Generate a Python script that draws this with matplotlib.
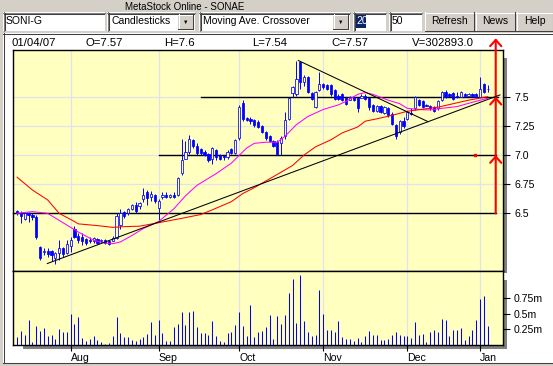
import matplotlib
matplotlib.use('Agg')
import matplotlib.pyplot as plt
from matplotlib.patches import Rectangle
from matplotlib.lines import Line2D

W, H = 553, 366

# ── Daily bars, SONI-G, 12 Jul 2006 .. 4 Jan 2007 ──
opens = [6.52, 6.50, 6.45, 6.50, 6.49, 6.47, 6.21, 6.17, 6.18, 6.18,
         6.12, 6.16, 6.20, 6.16, 6.22, 6.37, 6.31, 6.30, 6.28, 6.27,
         6.26, 6.28, 6.26, 6.27, 6.26, 6.26, 6.29, 6.40, 6.51, 6.50,
         6.54, 6.57, 6.56, 6.62, 6.68, 6.64, 6.66, 6.55, 6.64, 6.66,
         6.64, 6.66, 6.66, 6.85, 6.97, 7.03, 7.13, 7.08, 7.05, 7.03,
         7.01, 6.97, 7.04, 7.00, 6.99, 6.98, 7.05, 7.02, 7.15, 7.45,
         7.32, 7.31, 7.30, 7.28, 7.25, 7.20, 7.16, 7.12, 7.11, 7.10,
         7.16, 7.31, 7.53, 7.52, 7.80, 7.63, 7.67, 7.53, 7.41, 7.56,
         7.61, 7.60, 7.60, 7.56, 7.51, 7.52, 7.49, 7.47, 7.50, 7.49,
         7.49, 7.51, 7.49, 7.43, 7.38, 7.42, 7.36, 7.40, 7.35, 7.26,
         7.20, 7.29, 7.31, 7.36, 7.40, 7.47, 7.46, 7.43, 7.42, 7.41,
         7.40, 7.47, 7.54, 7.52, 7.53, 7.51, 7.50, 7.52, 7.51, 7.52,
         7.52, 7.50, 7.61, 7.57]
highs = [6.53, 6.52, 6.51, 6.51, 6.50, 6.49, 6.22, 6.20, 6.20, 6.19,
         6.17, 6.27, 6.21, 6.27, 6.30, 6.39, 6.33, 6.33, 6.29, 6.30,
         6.30, 6.29, 6.28, 6.28, 6.27, 6.31, 6.50, 6.54, 6.52, 6.55,
         6.58, 6.60, 6.60, 6.72, 6.70, 6.69, 6.67, 6.62, 6.68, 6.68,
         6.67, 6.68, 6.81, 7.14, 7.12, 7.17, 7.14, 7.10, 7.06, 7.04,
         7.02, 7.07, 7.05, 7.01, 7.00, 7.04, 7.06, 7.14, 7.43, 7.47,
         7.33, 7.33, 7.31, 7.30, 7.26, 7.21, 7.17, 7.13, 7.13, 7.16,
         7.37, 7.50, 7.59, 7.81, 7.81, 7.69, 7.68, 7.54, 7.55, 7.71,
         7.62, 7.61, 7.61, 7.57, 7.52, 7.53, 7.50, 7.51, 7.51, 7.50,
         7.52, 7.52, 7.50, 7.44, 7.43, 7.43, 7.42, 7.41, 7.37, 7.27,
         7.30, 7.33, 7.38, 7.40, 7.51, 7.48, 7.47, 7.44, 7.43, 7.42,
         7.47, 7.55, 7.56, 7.53, 7.54, 7.54, 7.55, 7.53, 7.53, 7.53,
         7.53, 7.67, 7.62, 7.60]
lows = [6.49, 6.42, 6.44, 6.43, 6.44, 6.28, 6.10, 6.14, 6.13, 6.09,
        6.07, 6.10, 6.13, 6.15, 6.17, 6.29, 6.25, 6.23, 6.23, 6.25,
        6.25, 6.24, 6.25, 6.24, 6.23, 6.26, 6.28, 6.37, 6.46, 6.49,
        6.53, 6.50, 6.54, 6.60, 6.57, 6.61, 6.59, 6.44, 6.62, 6.63,
        6.63, 6.63, 6.65, 6.83, 6.97, 7.01, 7.06, 7.00, 7.00, 6.99,
        6.94, 6.92, 6.96, 6.96, 6.96, 6.97, 7.01, 7.01, 7.13, 7.29,
        7.29, 7.27, 7.24, 7.23, 7.19, 7.13, 7.11, 7.07, 7.00, 7.00,
        7.14, 7.30, 7.50, 7.51, 7.57, 7.59, 7.53, 7.47, 7.40, 7.55,
        7.57, 7.56, 7.51, 7.47, 7.47, 7.46, 7.43, 7.47, 7.46, 7.37,
        7.49, 7.47, 7.39, 7.37, 7.37, 7.36, 7.35, 7.33, 7.26, 7.14,
        7.18, 7.23, 7.30, 7.34, 7.39, 7.42, 7.40, 7.42, 7.39, 7.37,
        7.39, 7.46, 7.49, 7.50, 7.47, 7.49, 7.50, 7.50, 7.50, 7.50,
        7.49, 7.50, 7.53, 7.54]
closes = [6.50, 6.48, 6.50, 6.49, 6.47, 6.30, 6.12, 6.18, 6.15, 6.14,
          6.16, 6.20, 6.15, 6.24, 6.27, 6.30, 6.27, 6.26, 6.25, 6.26,
          6.29, 6.25, 6.27, 6.25, 6.24, 6.29, 6.48, 6.50, 6.48, 6.54,
          6.57, 6.52, 6.59, 6.66, 6.63, 6.67, 6.61, 6.61, 6.66, 6.64,
          6.66, 6.64, 6.80, 6.96, 7.03, 7.14, 7.08, 7.02, 7.02, 7.00,
          6.96, 7.06, 6.98, 6.97, 6.98, 7.03, 7.02, 7.13, 7.41, 7.31,
          7.30, 7.29, 7.26, 7.24, 7.20, 7.15, 7.12, 7.08, 7.01, 7.15,
          7.30, 7.49, 7.58, 7.65, 7.63, 7.67, 7.54, 7.48, 7.54, 7.61,
          7.58, 7.57, 7.52, 7.48, 7.48, 7.47, 7.44, 7.50, 7.47, 7.40,
          7.51, 7.48, 7.41, 7.38, 7.42, 7.37, 7.41, 7.34, 7.27, 7.16,
          7.29, 7.25, 7.37, 7.35, 7.50, 7.43, 7.41, 7.42, 7.40, 7.38,
          7.46, 7.54, 7.50, 7.51, 7.48, 7.50, 7.54, 7.51, 7.52, 7.51,
          7.50, 7.57, 7.54, 7.57]
volume_m = [0.133, 0.225, 0.160, 0.400, 0.050, 0.305, 0.225, 0.278, 0.150, 0.160,
            0.096, 0.257, 0.214, 0.214, 0.500, 0.337, 0.450, 0.118, 0.064, 0.096,
            0.144, 0.080, 0.043, 0.016, 0.032, 0.144, 0.450, 0.187, 0.128, 0.128,
            0.080, 0.064, 0.096, 0.128, 0.176, 0.364, 0.160, 0.400, 0.187, 0.070,
            0.064, 0.289, 0.337, 0.530, 0.320, 0.530, 0.546, 0.289, 0.193, 0.193,
            0.160, 0.385, 0.144, 0.064, 0.043, 0.193, 0.209, 0.320, 0.530, 0.305,
            0.144, 0.640, 0.128, 0.209, 0.225, 0.289, 0.480, 0.096, 0.465, 0.337,
            0.480, 0.835, 1.060, 0.353, 1.120, 0.385, 0.209, 0.144, 0.160, 0.880,
            0.500, 0.241, 0.241, 0.209, 0.385, 0.128, 0.096, 0.096, 0.064, 0.112,
            0.048, 0.144, 0.225, 0.160, 0.160, 0.080, 0.080, 0.096, 0.160, 0.209,
            0.160, 0.144, 0.144, 0.112, 0.369, 0.160, 0.176, 0.048, 0.209, 0.241,
            0.209, 0.417, 0.401, 0.144, 0.241, 0.241, 0.273, 0.080, 0.144, 0.241,
            0.401, 0.738, 0.786, 0.302893]
last_date = '01/04/07'

# moving averages as drawn (bar index, value)
ma20_bars = [0, 4, 8, 10, 13, 16, 20, 23, 25, 27, 30, 33, 37, 41, 44, 47, 52, 56,
             60, 62, 65, 68, 70, 73, 76, 80, 84, 86, 89, 91, 93, 97, 100, 102,
             105, 108, 111, 115, 118, 122, 123]
ma20_vals = [6.50, 6.515, 6.50, 6.46, 6.40, 6.34, 6.27, 6.245, 6.24, 6.255, 6.31,
             6.37, 6.43, 6.54, 6.65, 6.74, 6.84, 6.93, 7.06, 7.10, 7.11, 7.11,
             7.16, 7.26, 7.33, 7.39, 7.43, 7.46, 7.52, 7.535, 7.52, 7.47, 7.44,
             7.40, 7.39, 7.386, 7.40, 7.415, 7.443, 7.478, 7.486]
ma50_bars = [0, 4, 8, 11, 15, 16, 21, 25, 28, 32, 37, 43, 48, 51, 56, 59, 62, 72,
             75, 78, 82, 85, 89, 91, 94, 98, 102, 110, 114, 118, 123]
ma50_vals = [6.81, 6.70, 6.615, 6.50, 6.43, 6.41, 6.395, 6.38, 6.386, 6.39, 6.42,
             6.457, 6.49, 6.53, 6.60, 6.67, 6.72, 6.91, 7.00, 7.07, 7.13, 7.19,
             7.24, 7.29, 7.31, 7.34, 7.375, 7.41, 7.44, 7.47, 7.50]

month_labels = ['Aug', 'Sep', 'Oct', 'Nov', 'Dec', 'Jan']
month_bars = [14, 37, 58, 80, 102, 121]
price_ticks = [6.5, 6.75, 7.0, 7.25, 7.5]
price_labels = ['6.5', '6.75', '7.0', '7.25', '7.5']
vol_ticks = [0.25, 0.5, 0.75]
vol_labels = ['0.25m', '0.5m', '0.75m']

# hand-drawn studies
trend_up = ([7.9, 126.2], [6.07, 7.515])
trend_down = ([73.5, 107.4], [7.81, 7.286])
levels = [(6.5, -1.07, 125.1), (7.0, 37.0, 125.1), (7.5, 48.0, 125.7)]
target_bar = 125.1
target_steps = [6.5, 7.0, 7.5, 8.0]

BLUE = '#0000FF'
YELLOW = '#FFFFC0'
GRID = '#E2E2EA'
GREY = '#D4D0C8'
plt.rcParams['font.family'] = ['Liberation Sans', 'DejaVu Sans']

fig = plt.figure(figsize=(W / 100, H / 100), dpi=100, facecolor=GREY)


def box(x0, y0, x1, y1, **kw):
    fig.add_artist(Rectangle((x0 / W, 1 - y1 / H), (x1 - x0) / W, (y1 - y0) / H,
                             transform=fig.transFigure, **kw))


def seg(x0, y0, x1, y1, **kw):
    fig.add_artist(Line2D([x0 / W, x1 / W], [1 - y0 / H, 1 - y1 / H],
                          transform=fig.transFigure, **kw))


def label(x, y, s, **kw):
    fig.text(x / W, 1 - y / H, s, va='center', **kw)


def sunken(x0, y0, x1, y1):
    box(x0, y0, x1, y1, facecolor='white', edgecolor='none')
    seg(x0, y0 + 0.5, x1, y0 + 0.5, color='#808080', lw=0.75)
    seg(x0 + 0.5, y0, x0 + 0.5, y1, color='#808080', lw=0.75)
    seg(x0 + 1, y0 + 1.5, x1 - 1, y0 + 1.5, color='#404040', lw=0.75)
    seg(x0 + 1.5, y0 + 1, x0 + 1.5, y1 - 1, color='#404040', lw=0.75)


def raised(x0, y0, x1, y1):
    box(x0, y0, x1, y1, facecolor=GREY, edgecolor='none')
    seg(x0, y0 + 0.5, x1, y0 + 0.5, color='white', lw=0.75)
    seg(x0 + 0.5, y0, x0 + 0.5, y1, color='white', lw=0.75)
    seg(x0, y1 - 0.5, x1, y1 - 0.5, color='#404040', lw=0.75)
    seg(x1 - 0.5, y0, x1 - 0.5, y1, color='#404040', lw=0.75)


# ── window chrome ──
label(185, 7, 'MetaStock Online - SONAE', ha='center', fontsize=7.0)
sunken(3, 12, 105, 31)
label(6, 21.5, 'SONI-G', fontsize=7.5)
for x0, x1, txt in [(107, 195, 'Candlesticks'), (199, 350, 'Moving Ave. Crossover')]:
    sunken(x0, 12, x1, 31)
    label(x0 + 4, 21.5, txt, fontsize=7.5)
    raised(x1 - 17, 14, x1 - 2, 29)
    label(x1 - 9.5, 22, '\u25BC', ha='center', fontsize=4)
sunken(353, 12, 386, 31)
box(356, 15, 366, 28, facecolor='#0A246A', edgecolor='none')
label(356.5, 21.5, '20', fontsize=7.5, color='white')
sunken(389, 12, 422, 31)
label(392, 21.5, '50', fontsize=7.5)
for x0, x1, txt in [(425, 474, 'Refresh'), (475, 515, 'News'), (516, 553, 'Help')]:
    raised(x0, 12, x1, 31)
    label((x0 + x1) / 2, 21.5, txt, ha='center', fontsize=7.5)

box(3, 33, 553, 363, facecolor='white', edgecolor='none', zorder=-2)
seg(3.5, 33, 3.5, 363, color='#404040', lw=0.75, zorder=-1)
seg(3, 33.5, 553, 33.5, color='#404040', lw=0.75, zorder=-1)
seg(3, 362.5, 553, 362.5, color='#404040', lw=0.75, zorder=-1)

info = [(12, last_date), (86, 'O=%g' % opens[-1]), (164, 'H=%g' % highs[-1]),
        (252, 'L=%g' % lows[-1]), (331, 'C=%g' % closes[-1]),
        (412, 'V=%.1f' % (volume_m[-1] * 1e6))]
for x, txt in info:
    label(x, 43, txt, fontsize=8.2)

# panel drop shadows
box(503, 58, 507, 273, facecolor='#808080', edgecolor='none', zorder=-1)
box(503, 280, 507, 349, facecolor='#808080', edgecolor='none', zorder=-1)
box(23, 345, 507, 349, facecolor='#808080', edgecolor='none', zorder=-1)

# ── price panel ──
ax = fig.add_axes([13 / W, 1 - 271 / H, 490 / W, 221 / H], facecolor=YELLOW)
vax = fig.add_axes([13 / W, 1 - 345 / H, 490 / W, 74 / H], facecolor=YELLOW)
for a in (ax, vax):
    a.set_xlim(-1.07, 127.0)
    for s in a.spines.values():
        s.set_linewidth(1.0)
        s.set_color('black')
    a.set_xticks(month_bars)
    a.grid(True, axis='x', color=GRID, lw=0.9)
    a.set_axisbelow(True)
    a.yaxis.tick_right()
    a.tick_params(axis='y', length=5, width=0.8, pad=3, labelsize=7.6)

ax.set_ylim(6.006, 7.90)
ax.set_yticks(price_ticks, price_labels)
ax.grid(True, axis='y', color=GRID, lw=0.9)
ax.tick_params(axis='x', length=0, labelbottom=False)

for lvl, b0, b1 in levels:
    ax.plot([b0, b1], [lvl, lvl], color='black', lw=1.0, zorder=2, clip_on=False)

bars = list(range(len(closes)))
ax.vlines(bars, lows, highs, color=BLUE, lw=0.7, zorder=3)
body_lo = [min(o, c) for o, c in zip(opens, closes)]
body_h = [abs(c - o) for o, c in zip(opens, closes)]
faces = [YELLOW if c > o else BLUE for o, c in zip(opens, closes)]
ax.bar(bars, body_h, bottom=body_lo, width=0.58, color=faces, edgecolor=BLUE,
       linewidth=0.55, zorder=4)

ax.plot(ma20_bars, ma20_vals, color='#FF00FF', lw=0.75, zorder=5)
ax.plot(ma50_bars, ma50_vals, color='#FF0000', lw=0.75, zorder=5)
ax.plot(*trend_up, color='black', lw=0.75, zorder=6, clip_on=False)
ax.plot(*trend_down, color='black', lw=0.75, zorder=6)

for p0, p1 in zip(target_steps[:-1], target_steps[1:]):
    ax.annotate('', xy=(target_bar, p1), xytext=(target_bar, p0),
                annotation_clip=False,
                arrowprops=dict(arrowstyle='->,head_length=0.45,head_width=0.4',
                                color='#FF0000', lw=1.5, shrinkA=0, shrinkB=0,
                                mutation_scale=10))
ax.plot([119.8], [7.0], marker='s', ms=1.5, color='#FF0000', zorder=6)

# ── volume panel ──
vax.set_ylim(0, 1.188)
vax.vlines(bars, 0, volume_m, color=BLUE, lw=0.75, zorder=3)
vax.set_yticks(vol_ticks, vol_labels)
vax.set_xticks(month_bars, month_labels)
vax.tick_params(axis='x', length=4, width=0.8, pad=2, labelsize=7.6)
for t in vax.get_xticklabels():
    t.set_ha('left')

fig.savefig('out.png', dpi=100, facecolor=GREY)
